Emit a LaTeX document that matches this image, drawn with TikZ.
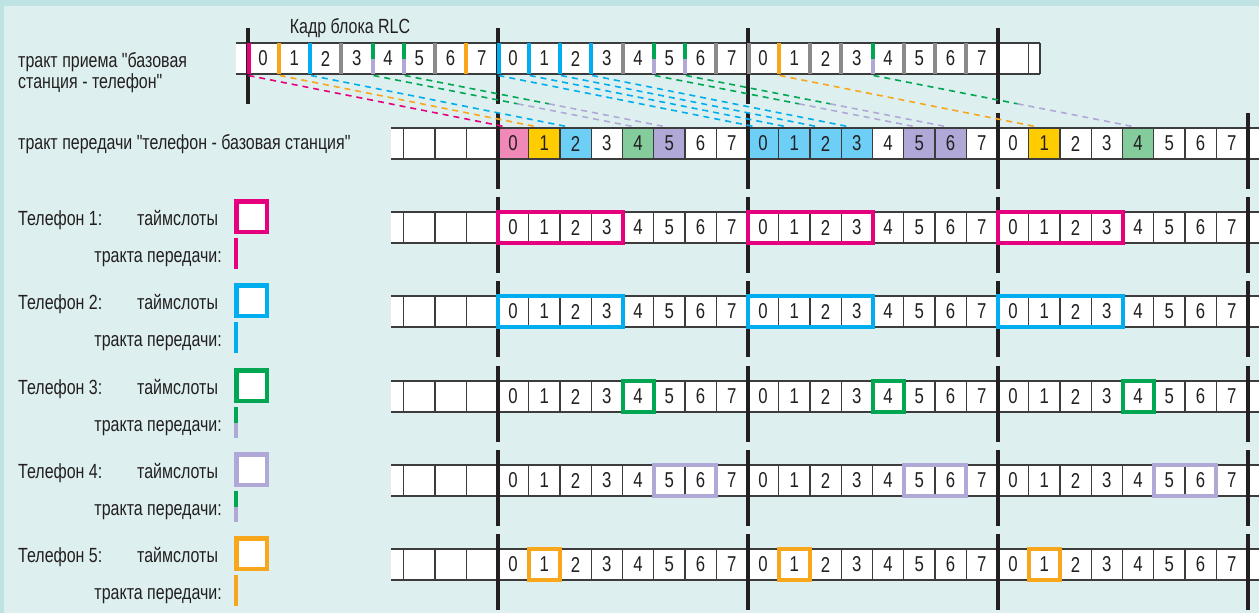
\documentclass[tikz,border=0pt]{standalone}
\usepackage{fontspec}
\setmainfont{Liberation Sans}[FakeStretch=0.78,Ligatures=TeXOff]
\usetikzlibrary{calc}
\definecolor{mag}{RGB}{229,0,125}
\definecolor{blu}{RGB}{0,174,239}
\definecolor{grn}{RGB}{0,166,81}
\definecolor{lav}{RGB}{176,168,214}
\definecolor{ora}{RGB}{248,166,28}
\definecolor{gry}{RGB}{138,138,138}
\definecolor{pinkf}{RGB}{240,136,184}
\definecolor{yelf}{RGB}{255,204,0}
\definecolor{bluf}{RGB}{109,207,246}
\definecolor{grnf}{RGB}{133,204,156}
\definecolor{lavf}{RGB}{176,168,214}
\definecolor{blk}{RGB}{35,31,32}
\definecolor{cellc}{RGB}{60,60,60}
\definecolor{bgc}{RGB}{221,240,239}
\definecolor{bandc}{RGB}{190,227,226}
\begin{document}
\begin{tikzpicture}[x=1pt,y=-1pt,
  lbl/.style={inner sep=0pt,font=\fontsize{20.5}{23}\selectfont,text=blk},
  digit/.style={inner sep=0pt,font=\fontsize{21.5}{21.5}\selectfont,text=blk},
  cellline/.style={draw=cellc,line width=1.3pt},
  thickdiv/.style={line width=4pt},
  barline/.style={draw=blk,line width=4pt},
  hl/.style={line width=4pt},
  dline/.style={line width=1.6pt,dash pattern=on 6pt off 5pt}]
\useasboundingbox (0,0) rectangle (1259,613);
\fill[bandc] (0,0) rectangle (1259,613);
\fill[bgc] (4,6) rectangle (1259,613);

% ---------- row 1 : receive ----------
\fill[white] (236,43) rectangle (1040,74);
\draw[cellline] (236,43) -- (1040,43) (236,74) -- (1040,74);
\draw[cellline] (1028.75,43) -- (1028.75,74) (1040,43) -- (1040,74);
\foreach \k in {0,8,16,24}{
  \draw[barline] (247.5+31.25*\k,28) -- (247.5+31.25*\k,104);
}
\foreach \k/\c/\o in {0/mag/1.5,1/ora/0,2/blu/0,3/gry/0,6/gry/0,7/ora/0,8/blu/1.5,9/blu/0,10/blu/0,11/blu/0,12/gry/0,15/gry/0,16/gry/1.5,17/ora/0,18/gry/0,19/gry/0,21/gry/0,22/gry/0,23/gry/0}{
  \draw[thickdiv,\c] (247.5+31.25*\k+\o,43) -- (247.5+31.25*\k+\o,74);
}
\foreach \k in {4,5,13,14,20}{
  \draw[thickdiv,grn] (247.5+31.25*\k,43) -- (247.5+31.25*\k,58.5);
  \draw[thickdiv,lav] (247.5+31.25*\k,58.5) -- (247.5+31.25*\k,74);
}
\foreach \k in {0,...,23}{
  \pgfmathtruncatemacro\d{mod(\k,8)}
  \node[digit] (a\k) at (247.5+31.25*\k+15.6,58.5) {\d};
}
\node[lbl,anchor=base] (title) at (350,33) {Кадр блока RLC};
\node[lbl,anchor=base west] (rx1) at (18,67) {тракт приема "базовая};
\node[lbl,anchor=base west] (rx2) at (18,88.5) {станция - телефон"};

% ---------- rows 2..7 ----------
\foreach \r/\T in {2/128,3/212,4/296,5/381,6/465,7/549}{
  \fill[white] (391,\T) rectangle (1259,\T+31);
  \ifnum\r=2
    \foreach \k/\c in {0/pinkf,1/yelf,2/bluf,4/grnf,5/lavf,8/bluf,9/bluf,10/bluf,11/bluf,13/lavf,14/lavf,17/yelf,20/grnf}{
      \fill[\c] (497.5+31.25*\k,\T) rectangle +(31.25,31);
    }
  \fi
  \draw[cellline] (391,\T) -- (1259,\T) (391,\T+31) -- (1259,\T+31);
  \foreach \k in {-3,...,24}{
    \draw[cellline] (497.5+31.25*\k,\T) -- (497.5+31.25*\k,\T+31);
  }
  \foreach \k in {0,...,23}{
    \pgfmathtruncatemacro\d{mod(\k,8)}
    \node[digit] (r\r c\k) at (497.5+31.25*\k+15.6,\T+15.5) {\d};
  }
  \foreach \k in {0,8,16,24}{
    \draw[barline] (497.5+31.25*\k,\T-15) -- (497.5+31.25*\k,\T+61);
  }
}
\node[lbl,anchor=base west] (tx) at (18,149) {тракт передачи "телефон - базовая станция"};

% ---------- highlights ----------
\foreach \T/\c/\a/\b in {212/mag/0/3,296/blu/0/3,381/grn/4/4,465/lav/5/6,549/ora/1/1}{
  \foreach \f in {0,1,2}{
    \draw[hl,\c] (497.5+31.25*8*\f+31.25*\a,\T) rectangle (497.5+31.25*8*\f+31.25*\b+31.25,\T+31);
  }
}

% ---------- legend ----------
\foreach \n/\T/\c in {1/212/mag,2/296/blu,3/381/grn,4/465/lav,5/549/ora}{
  \node[lbl,anchor=base west] (ph\n) at (18,\T+13) {Телефон \n:};
  \node[lbl,anchor=base west] (ts\n) at (137,\T+13) {таймслоты};
  \node[lbl,anchor=base east] (tr\n) at (222,\T+50) {тракта передачи:};
  \draw[\c,line width=4.5pt,fill=white] (236.25,\T-10.75) rectangle (266.75,\T+19.75);
}
\foreach \T/\c in {212/mag,296/blu,549/ora}{
  \draw[thickdiv,\c] (236,\T+26) -- (236,\T+57);
}
\foreach \T in {381,465}{
  \draw[thickdiv,grn] (236,\T+26) -- (236,\T+41.5);
  \draw[thickdiv,lav] (236,\T+41.5) -- (236,\T+57);
}

% ---------- dashed connectors ----------
\foreach \k in {0,1,2,4,5,8,9,10,11,13,14,17,20}{
  \coordinate (s\k) at (247.5+31.25*\k+1,75.5);
}
\foreach \k in {0,1,2,8,9,10,11,17}{
  \coordinate (e\k) at (497.5+31.25*\k+9,127);
}
\foreach \k in {4,5,13,14,20}{
  \coordinate (e\k) at (497.5+31.25*\k+13,127);
}
\foreach \k/\c in {0/mag,1/ora,2/blu,8/blu,9/blu,10/blu,11/blu,17/ora}{
  \draw[dline,\c] (s\k) -- (e\k);
}
\foreach \k in {4,5,13,14,20}{
  \coordinate (m\k) at ($(s\k)!0.55!(e\k)$);
  \draw[dline,grn] (s\k) -- (m\k);
  \draw[dline,lav] (m\k) -- (e\k);
}
\end{tikzpicture}
\end{document}
